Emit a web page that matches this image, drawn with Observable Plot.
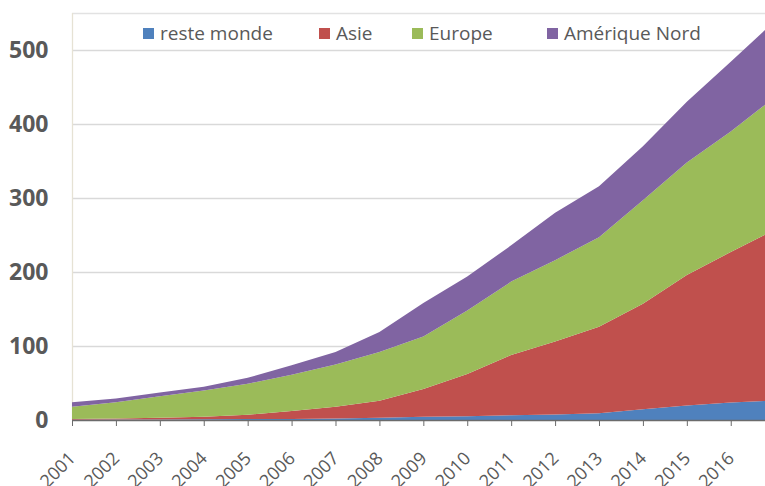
<!DOCTYPE html>
<html><head><meta charset="utf-8">
<script src="https://cdn.jsdelivr.net/npm/d3@7"></script>
<script src="https://cdn.jsdelivr.net/npm/@observablehq/plot@0.6"></script>
<style>
body{margin:0;background:#fff;font-family:"Open Sans",sans-serif;}
#wrap{position:relative;width:765px;height:486px;overflow:hidden;}
#legend{position:absolute;top:20px;left:0;width:765px;height:26px;font-size:19px;color:#595959;}
.item{position:absolute;top:0;display:flex;align-items:center;height:26px;white-space:nowrap;}
.sw{width:11px;height:11px;margin-right:6px;}
</style></head><body>
<div id="wrap"><div id="chart"></div><div id="legend"></div></div>
<script>
const years = [2001,2002,2003,2004,2005,2006,2007,2008,2009,2010,2011,2012,2013,2014,2015,2016,2017];
const resteMonde   = [0.5,0.6,0.8,1,1.2,1.5,2,3,4.5,5,6.5,7.5,9,14.5,19.5,23.5,26.5];
const asie         = [1,1.4,2.2,3.5,5.8,10.5,16,23,37.5,57,81.5,98.5,117,142.5,176.5,203.5,230.5];
const europe       = [16.5,22,29,35.5,42,49,57,66,71,86,99,110,121,140,152,163,179];
const ameriqueNord = [6,5,5,5,8,13,17,27,45,46,49,64,69,73,82,94,103];
const series = ["reste monde","Asie","Europe","Amérique Nord"];
const colors = ["#4F81BD","#C0504D","#9BBB59","#8064A2"];
const xTickYears = [2001,2002,2003,2004,2005,2006,2007,2008,2009,2010,2011,2012,2013,2014,2015,2016];
const yTicks = [0,100,200,300,400,500];
const gridLines = [100,200,300,400,500];
const legendLeft = [143,319,412,547];

const valuesBySeries = [resteMonde, asie, europe, ameriqueNord];
const data = [];
series.forEach((s,i)=>years.forEach((y,j)=>data.push({year:y, series:s, value:valuesBySeries[i][j]})));

const chart = Plot.plot({
  width:765, height:486,
  marginLeft:72, marginRight:0, marginTop:13, marginBottom:66,
  x:{domain:[2001,2016.78]},
  y:{domain:[0,550]},
  color:{domain:series, range:colors},
  style:{fontFamily:"Open Sans, sans-serif", color:"#595959", background:"#fff", overflow:"visible"},
  marks:[
    Plot.ruleY(gridLines,{stroke:"#d9d9d9", strokeWidth:1.3}),
    Plot.ruleY([550],{stroke:"#e2e2e2", strokeWidth:1.3}),
    Plot.ruleX([2001],{stroke:"#e6e2d4", strokeWidth:1.3}),
    Plot.areaY(data,{x:"year", y:"value", fill:"series", order:series, clip:true}),
    Plot.ruleY([0],{stroke:"#6b6b6b", strokeWidth:1.3}),
    Plot.axisX({ticks:xTickYears, tickSize:6, fill:"none", stroke:"#6b6b6b", label:null}),
    Plot.axisX({ticks:xTickYears, tickFormat:d=>String(d), tickRotate:-45, tickSize:0, tickPadding:30, dy:5, fontSize:18, label:null}),
    Plot.axisY({ticks:yTicks, tickSize:0, tickPadding:24, fontSize:23, fontWeight:"bold", label:null})
  ]
});
document.getElementById("chart").appendChild(chart);

const legend = document.getElementById("legend");
series.forEach((s,i)=>{
  const it = document.createElement("div");
  it.className="item"; it.style.left = legendLeft[i]+"px";
  const sw = document.createElement("span"); sw.className="sw"; sw.style.background=colors[i];
  const tx = document.createElement("span"); tx.textContent=s;
  it.appendChild(sw); it.appendChild(tx); legend.appendChild(it);
});
</script>
</body></html>
